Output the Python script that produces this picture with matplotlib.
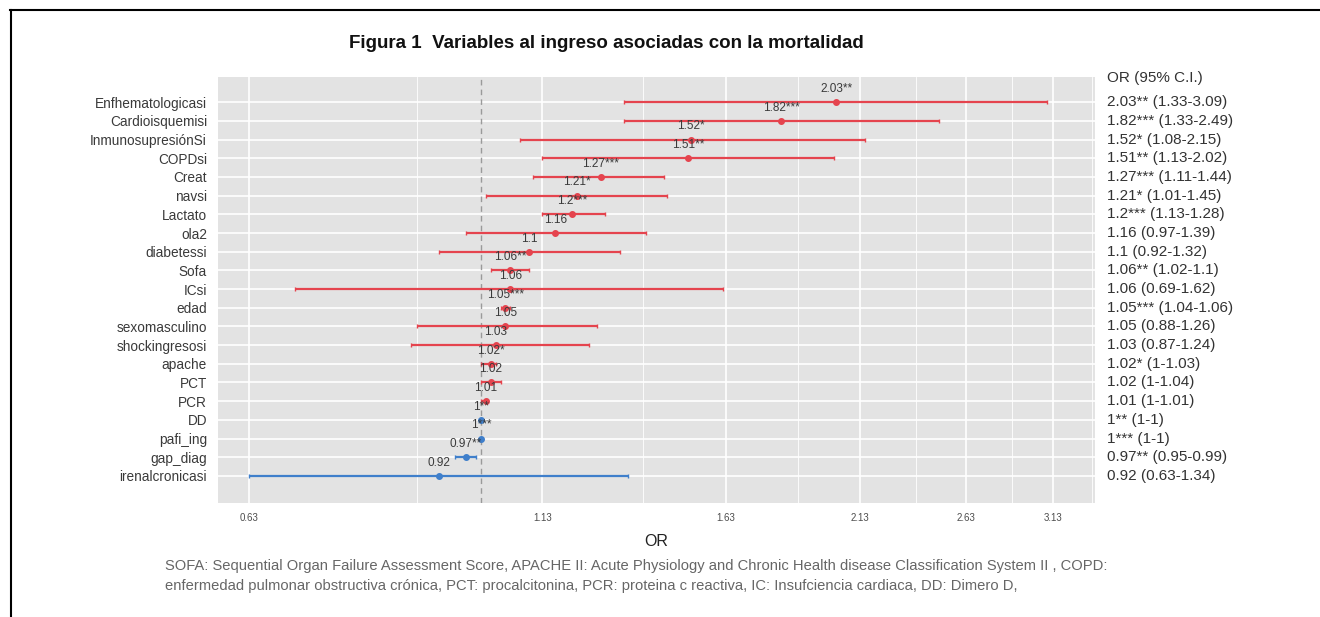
import numpy as np
import matplotlib.pyplot as plt
from matplotlib.lines import Line2D

plt.rcParams['font.family'] = ['Liberation Sans', 'DejaVu Sans']

# odds ratios with 95% confidence intervals, top row first
variables = ['Enfhematologicasi', 'Cardioisquemisi', 'InmunosupresiónSi', 'COPDsi',
             'Creat', 'navsi', 'Lactato', 'ola2', 'diabetessi', 'Sofa', 'ICsi', 'edad',
             'sexomasculino', 'shockingresosi', 'apache', 'PCT', 'PCR', 'DD',
             'pafi_ing', 'gap_diag', 'irenalcronicasi']
odds = [2.03, 1.82, 1.52, 1.51, 1.27, 1.21, 1.2, 1.16, 1.1, 1.06, 1.06, 1.05,
        1.05, 1.03, 1.02, 1.02, 1.01, 1, 1, 0.97, 0.92]
ci_low = [1.33, 1.33, 1.08, 1.13, 1.11, 1.01, 1.13, 0.97, 0.92, 1.02, 0.69, 1.04,
          0.88, 0.87, 1, 1, 1, 1, 1, 0.95, 0.63]
ci_high = [3.09, 2.49, 2.15, 2.02, 1.44, 1.45, 1.28, 1.39, 1.32, 1.1, 1.62, 1.06,
           1.26, 1.24, 1.03, 1.04, 1.01, 1, 1, 0.99, 1.34]
stars = ['**', '***', '*', '**', '***', '*', '***', '', '', '**', '', '***',
         '', '', '*', '', '', '**', '***', '**', '']
x_breaks = [0.63, 1.13, 1.63, 2.13, 2.63, 3.13]

title = 'Figura 1  Variables al ingreso asociadas con la mortalidad'
note = ('SOFA: Sequential Organ Failure Assessment Score, APACHE II: Acute Physiology '
        'and Chronic Health disease Classification System II , COPD:\n'
        'enfermedad pulmonar obstructiva crónica, PCT: procalcitonina, PCR: proteina c '
        'reactiva, IC: Insufciencia cardiaca, DD: Dimero D,')

RED = '#E5444E'
BLUE = '#3F7FCB'


def fmt(v):
    # R style number printing: drop trailing zeros
    return ('%.2f' % v).rstrip('0').rstrip('.')


W, H = 1320, 617
fig = plt.figure(figsize=(W / 100, H / 100), dpi=100)
ax = fig.add_axes([218 / W, 1 - 503 / H, (1095 - 218) / W, (503 - 77) / H])
ax.set_facecolor('#E3E3E3')
for s in ax.spines.values():
    s.set_visible(False)

n = len(variables)
ypos = np.arange(n)
ax.set_xscale('log')
ax.set_xlim(0.592, 3.40)
ax.set_ylim(n - 1 + 1.45, -1.35)

# grid: majors at the breaks, minors halfway between them
minors = [(a + b) / 2 for a, b in zip(x_breaks[:-1], x_breaks[1:])] + [3.38]
for m in minors:
    ax.axvline(m, color='white', lw=0.6, zorder=0)
for b in x_breaks:
    ax.axvline(b, color='white', lw=1.2, zorder=0)
for y in ypos:
    ax.axhline(y, color='white', lw=1.2, zorder=0)
ax.axvline(1, color='#9A9A9A', lw=1.0, ls=(0, (4, 3)), zorder=1)

for i in range(n):
    c = RED if odds[i] > 1 else BLUE
    ax.errorbar(odds[i], ypos[i],
                xerr=[[odds[i] - ci_low[i]], [ci_high[i] - odds[i]]],
                fmt='o', color=c, ms=4, elinewidth=1.6, capsize=1.6,
                capthick=1.0, zorder=3)
    ax.annotate(fmt(odds[i]) + stars[i], (odds[i], ypos[i]),
                xytext=(0, 9.5), textcoords='offset points',
                ha='center', va='center', fontsize=8.5, color='#3A3A3A', zorder=4)

ax.xaxis.set_minor_locator(plt.NullLocator())
ax.set_xticks(x_breaks)
ax.set_xticklabels(['%.2f' % b for b in x_breaks], fontsize=7, color='#4D4D4D')
ax.set_yticks(ypos)
ax.set_yticklabels(variables, fontsize=9.8, color='#3A3A3A')
ax.tick_params(length=0, pad=7)
ax.tick_params(axis='y', pad=8)
ax.set_xlabel('OR', fontsize=11.5, color='#222222', labelpad=8)

# right hand column with the OR and interval
tr = ax.get_yaxis_transform()
ax.text(1.0138, -1.3, 'OR (95% C.I.)', transform=tr, fontsize=11,
        color='#333333', va='center', ha='left', clip_on=False)
for i in range(n):
    s = '%s%s (%s-%s)' % (fmt(odds[i]), stars[i], fmt(ci_low[i]), fmt(ci_high[i]))
    ax.text(1.0138, ypos[i], s, transform=tr, fontsize=11, color='#333333',
            va='center', ha='left', clip_on=False)

fig.text(606 / W, 1 - 44 / H, title, fontsize=13.5, fontweight='bold',
         ha='center', va='center', color='#111111')
fig.text(165 / W, 1 - 576 / H, note, fontsize=10.6, color='#666666',
         ha='left', va='center', linespacing=1.6)

# frame lines along the top and left edge
fig.add_artist(Line2D([10 / W, 1], [1 - 10 / H, 1 - 10 / H], color='black', lw=1.5))
fig.add_artist(Line2D([11 / W, 11 / W], [1 - 10 / H, 0], color='black', lw=1.5))

plt.savefig('out.png', dpi=100)
